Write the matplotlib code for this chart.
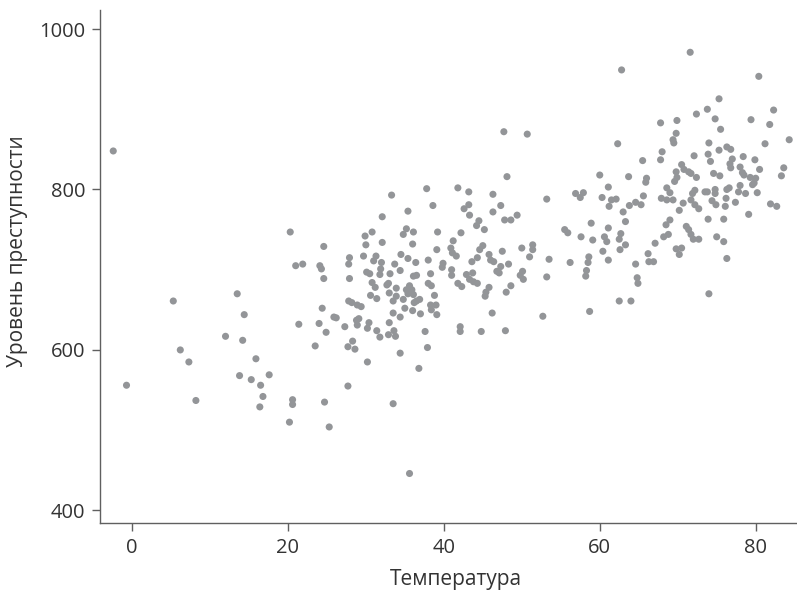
import matplotlib
matplotlib.use("Agg")
import matplotlib.pyplot as plt

temperature = [
    -2.4, -0.7, 5.3, 13.5, 14.4, 21.0, 21.4, 12.0, 14.2, 6.2, 7.3, 15.9, 13.8, 15.3, 17.6, 16.5, 16.8, 8.2, 20.6, 20.6, 16.4, 20.2,
    33.3, 35.4, 32.1, 20.3, 30.8, 29.9, 35.2, 34.8, 30.0, 32.1, 24.6, 21.9, 24.1, 24.3, 24.6, 27.9, 27.8, 29.7, 31.3, 31.0,
    32.0, 31.9, 33.7, 34.5, 35.4, 34.4, 27.9, 30.1, 30.5, 31.8, 33.1, 32.9, 30.8, 31.2, 32.7, 33.9, 30.6, 31.4, 33.0, 33.9,
    33.5, 34.8, 35.2, 27.8, 28.2, 29.4, 24.4, 35.0, 28.9,
    24.0, 25.9, 26.2, 24.9, 27.3, 28.8, 29.1, 28.9, 30.4, 30.2, 31.4, 31.8, 33.0, 33.6, 32.9, 33.8, 33.5, 34.4, 23.5, 28.3,
    27.7, 28.6, 34.4, 30.2, 27.7, 24.7, 33.5, 25.3, 35.6,
    47.7, 50.7, 48.1, 37.8, 41.8, 43.2, 46.3, 53.2, 38.6, 42.6, 43.2, 43.3, 46.3, 47.3, 47.8, 48.6, 49.4, 44.5, 44.2, 45.2,
    36.1, 39.2, 42.2, 41.2, 36.0, 39.1, 40.9, 41.1, 41.6, 45.0, 44.6, 50.0, 51.4, 51.4, 47.5, 36.4, 38.0, 39.9, 39.8, 43.6,
    44.3, 45.8, 46.0, 46.4, 51.0, 53.5, 47.3, 48.3, 46.8, 47.1, 41.0, 41.0, 38.3, 36.1, 36.5, 42.9, 43.7, 50.1, 49.8, 53.2,
    43.3, 43.8, 44.3, 50.2, 38.0, 38.4, 35.6, 35.9, 35.4, 36.1, 36.5, 36.9, 36.2, 38.8, 38.3, 39.0, 38.4, 39.1, 41.8, 42.3,
    45.8, 45.4, 45.3, 48.6, 48.0, 36.0, 37.0, 46.2, 52.7, 37.6, 42.1, 42.1, 44.8, 47.9, 37.9, 36.8,
    62.3, 68.0, 67.8, 65.5, 60.0, 63.7, 66.0, 65.9, 69.5, 69.8, 69.6, 61.1, 56.9, 57.9, 57.5, 60.3, 61.5, 62.1, 61.2, 65.6,
    65.3, 63.8, 64.6, 63.0, 67.9, 68.6, 69.0, 68.6, 69.4, 70.2, 58.9, 63.3, 69.0, 68.5, 55.5, 55.9, 61.1, 57.6, 59.1, 60.6,
    60.9, 62.7, 62.5, 68.8, 68.2, 67.1, 63.3, 62.6, 60.4, 69.8, 70.2, 66.2, 66.3, 66.9, 56.2, 58.6, 58.5, 61.1, 64.6, 58.3,
    58.2, 64.8, 64.9, 62.5, 64.0, 58.7, 62.8, 67.8,
    71.6, 80.4, 75.3, 72.4, 73.8, 74.8, 69.9, 82.3, 79.4, 81.8, 75.5, 69.8, 69.4, 84.3, 81.2, 74.0, 76.3, 76.8, 75.3, 73.9,
    74.2, 72.1, 78.4, 79.9, 77.0, 76.7,
    76.8, 78.0, 78.3, 78.5, 80.5, 83.6, 83.3, 70.5, 70.8, 69.9, 71.4, 71.7, 72.4, 74.6, 75.4, 79.3, 80.0, 79.8, 79.6, 72.2,
    71.9, 73.5, 73.8, 74.8, 74.8, 76.3, 76.6, 76.2, 78.0, 77.8, 78.7, 80.2, 71.7, 72.2, 72.7, 70.7, 74.4, 74.9, 76.1, 77.4,
    81.9, 82.7, 79.1, 73.9, 75.9, 71.1, 71.4, 71.7, 72.0, 72.7, 75.0, 75.9, 70.5, 76.3, 74.0,
]

crime = [
    848, 556, 661, 670, 644, 705, 632, 617, 612, 600, 585, 589, 568, 563, 569, 556, 542, 537, 538, 532, 529, 510,
    793, 773, 766, 747, 747, 742, 751, 744, 731, 734, 729, 707, 705, 701, 689, 715, 707, 717, 717, 711,
    709, 701, 707, 719, 714, 699, 689, 697, 695, 694, 695, 683, 684, 678, 681, 677, 668, 664, 671, 667,
    661, 663, 675, 661, 659, 654, 652, 652, 656,
    633, 641, 640, 622, 629, 637, 639, 631, 634, 627, 624, 616, 634, 624, 619, 617, 646, 641, 605, 611,
    604, 601, 596, 585, 555, 535, 533, 504, 446,
    872, 869, 816, 801, 802, 797, 794, 788, 780, 776, 781, 768, 772, 780, 762, 762, 768, 761, 755, 750,
    747, 747, 746, 736, 732, 725, 727, 721, 717, 730, 725, 727, 731, 725, 723, 709, 712, 708, 703, 710,
    715, 719, 712, 710, 716, 713, 704, 707, 698, 696, 700, 693, 695, 692, 693, 694, 696, 698, 693, 691,
    688, 685, 683, 688, 683, 680, 680, 675, 670, 669, 661, 663, 659, 668, 656, 656, 650, 644, 683, 679,
    678, 672, 667, 680, 672, 649, 645, 646, 642, 623, 629, 623, 623, 624, 603, 577,
    857, 847, 837, 836, 818, 816, 814, 809, 858, 822, 810, 803, 795, 796, 790, 790, 787, 788, 779, 792,
    781, 780, 784, 772, 789, 802, 796, 787, 787, 774, 758, 760, 762, 756, 750, 746, 752, 741, 737, 741,
    735, 745, 738, 744, 741, 733, 731, 725, 723, 726, 719, 720, 710, 710, 709, 716, 709, 712, 707, 699,
    692, 690, 683, 661, 661, 648, 949, 883,
    971, 941, 913, 894, 900, 888, 886, 899, 887, 881, 875, 870, 862, 862, 857, 858, 853, 850, 849, 844,
    835, 842, 841, 837, 838, 832,
    827, 828, 821, 818, 825, 827, 817, 831, 825, 815, 822, 820, 815, 820, 817, 815, 814, 808, 806, 799,
    795, 797, 797, 800, 795, 800, 802, 789, 805, 797, 795, 796, 787, 781, 776, 783, 786, 781, 779, 784,
    782, 779, 769, 763, 763, 754, 750, 744, 738, 738, 741, 735, 727, 714, 670,
]

x_label = "Температура"
y_label = "Уровень преступности"
x_ticks = [0, 20, 40, 60, 80]
y_ticks = [400, 600, 800, 1000]

plt.rcParams['font.family'] = ['Open Sans', 'DejaVu Sans']

fig = plt.figure(figsize=(7.97, 5.96), dpi=100)
ax = fig.add_axes([100 / 797, 73 / 596, 697 / 797, 513 / 596])

ax.scatter(temperature, crime, s=26, color='#939598', edgecolors='none', zorder=3)

ax.set_xlim(-4.1, 85.3)
ax.set_ylim(384.3, 1023.7)
ax.set_xticks(x_ticks)
ax.set_yticks(y_ticks)

for side in ['top', 'right']:
    ax.spines[side].set_visible(False)
for side in ['left', 'bottom']:
    ax.spines[side].set_color('#606060')
    ax.spines[side].set_linewidth(1.0)

ax.tick_params(axis='both', direction='out', length=5.5, width=1.0, color='#606060',
               labelsize=14.5, labelcolor='#333333')
ax.tick_params(axis='x', pad=5.5)
ax.tick_params(axis='y', pad=5)

ax.set_xlabel(x_label, fontsize=15, color='#333333', labelpad=8)
ax.set_ylabel(y_label, fontsize=15, color='#333333', labelpad=8)
ax.xaxis.label.set_x(0.511)
ax.yaxis.label.set_y(0.53)

fig.savefig('out.png', dpi=100, facecolor='white')
